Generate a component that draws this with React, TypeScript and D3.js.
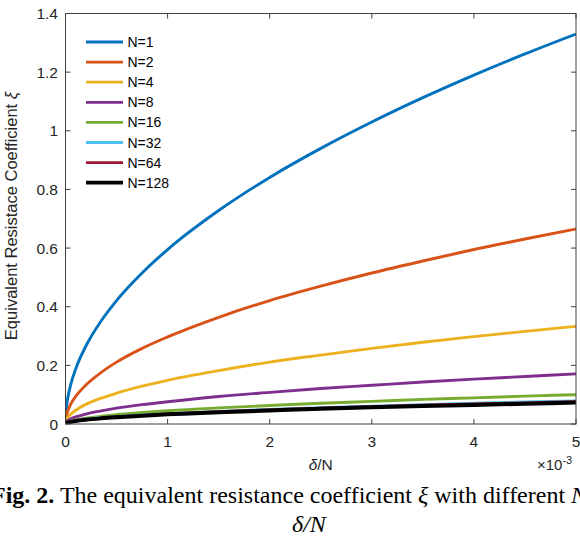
import React from "react";
import * as d3 from "d3";

// x values in units of 1e-3
const xs = [0, 0.005, 0.01, 0.02, 0.05, 0.1, 0.2, 0.35, 0.5, 0.75, 1, 1.5, 2, 2.5, 3, 3.5, 4, 4.5, 5];

const seriesNames = ["N=1", "N=2", "N=4", "N=8", "N=16", "N=32", "N=64", "N=128"];
const seriesColors = ["#0072BD", "#D95319", "#EDB120", "#7E2F8E", "#77AC30", "#4DBEEE", "#A2142F", "#000000"];

const n1 = [0, 0.042, 0.059, 0.084, 0.133, 0.188, 0.266, 0.352, 0.421, 0.515, 0.595, 0.728, 0.841, 0.940, 1.030, 1.113, 1.190, 1.262, 1.330];
const n2 = [0, 0.021, 0.030, 0.042, 0.067, 0.094, 0.133, 0.176, 0.211, 0.258, 0.297, 0.364, 0.421, 0.470, 0.515, 0.556, 0.595, 0.631, 0.665];
const n4 = [0, 0.011, 0.015, 0.021, 0.033, 0.047, 0.067, 0.088, 0.105, 0.129, 0.149, 0.182, 0.211, 0.235, 0.258, 0.279, 0.298, 0.316, 0.333];
const n8 = [0, 0.0054, 0.0076, 0.011, 0.017, 0.024, 0.034, 0.045, 0.054, 0.066, 0.076, 0.094, 0.108, 0.121, 0.132, 0.143, 0.153, 0.162, 0.171];
const n16 = [0, 0.0032, 0.0045, 0.0063, 0.010, 0.014, 0.020, 0.026, 0.032, 0.039, 0.045, 0.055, 0.063, 0.071, 0.077, 0.084, 0.089, 0.095, 0.100];
const n32 = [0, 0.0025, 0.0035, 0.005, 0.0079, 0.011, 0.016, 0.021, 0.025, 0.031, 0.035, 0.043, 0.050, 0.056, 0.061, 0.066, 0.071, 0.075, 0.079];
const n64 = [0, 0.0024, 0.0034, 0.0048, 0.0076, 0.0107, 0.015, 0.020, 0.024, 0.029, 0.034, 0.042, 0.048, 0.054, 0.059, 0.064, 0.068, 0.072, 0.076];
const n128 = [0, 0.0023, 0.0033, 0.0046, 0.0073, 0.0103, 0.0146, 0.0193, 0.023, 0.028, 0.033, 0.040, 0.046, 0.052, 0.057, 0.061, 0.065, 0.069, 0.073];

const seriesValues = [n1, n2, n4, n8, n16, n32, n64, n128];

const xTicks = [0, 1, 2, 3, 4, 5];
const yTicks = [0, 0.2, 0.4, 0.6, 0.8, 1, 1.2, 1.4];

const W = 580;
const H = 537;
const L = 65.5, R = 576, T = 13.5, B = 424;

export default function App() {
  const x = d3.scaleLinear().domain([0, 5]).range([L, R]);
  const y = d3.scaleLinear().domain([0, 1.4]).range([B, T]);
  const line = d3
    .line<number>()
    .x((_, i) => x(xs[i]))
    .y((d) => y(d))
    .curve(d3.curveMonotoneX);
  const font = "'Liberation Sans', Arial, Helvetica, sans-serif";
  const serif = "'Liberation Serif', 'Times New Roman', serif";
  const axisColor = "#404040";
  const tickLen = 5;
  return (
    <svg
      width={W}
      height={H}
      style={{ position: "absolute", left: 0, top: 0, background: "#fff" }}
    >
      <defs>
        <clipPath id="plotclip">
          <rect x={L} y={T} width={R - L} height={B - T} />
        </clipPath>
      </defs>
      <rect x={0} y={0} width={W} height={H} fill="#fff" />
      {/* curves */}
      <g clipPath="url(#plotclip)">
        {seriesValues.map((vals, i) => (
          <path
            key={seriesNames[i]}
            d={line(vals) || ""}
            fill="none"
            stroke={seriesColors[i]}
            strokeWidth={i === 7 ? 4 : 2.9}
            strokeLinejoin="round"
          />
        ))}
      </g>
      {/* axes box */}
      <rect x={L} y={T} width={R - L} height={B - T} fill="none" stroke={axisColor} strokeWidth={1} />
      {xTicks.map((t) => (
        <g key={"x" + t}>
          <line x1={x(t)} x2={x(t)} y1={B} y2={B - tickLen} stroke={axisColor} />
          <line x1={x(t)} x2={x(t)} y1={T} y2={T + tickLen} stroke={axisColor} />
          <text
            x={x(t)}
            y={447}
            fontFamily={font}
            fontSize={15.5}
            fill="#262626"
            textAnchor="middle"
          >
            {t}
          </text>
        </g>
      ))}
      {yTicks.map((t) => (
        <g key={"y" + t}>
          <line x1={L} x2={L + tickLen} y1={y(t)} y2={y(t)} stroke={axisColor} />
          <line x1={R} x2={R - tickLen} y1={y(t)} y2={y(t)} stroke={axisColor} />
          <text
            x={58}
            y={y(t)}
            dy="0.36em"
            fontFamily={font}
            fontSize={15.5}
            fill="#262626"
            textAnchor="end"
          >
            {t}
          </text>
        </g>
      ))}
      {/* x label */}
      <text x={(L + R) / 2} y={470} fontFamily={font} fontSize={15.5} fill="#262626" textAnchor="middle">
        <tspan fontStyle="italic">δ</tspan>/N
      </text>
      {/* exponent */}
      <text x={537} y={470} fontFamily={font} fontSize={15} fill="#262626">
        ×10
        <tspan fontSize={11} dy={-6}>-3</tspan>
      </text>
      {/* y label */}
      <text
        transform={`translate(17, 216) rotate(-90)`}
        fontFamily={font}
        fontSize={16.5}
        fill="#262626"
        textAnchor="middle"
      >
        Equivalent Resistace Coefficient <tspan fontStyle="italic">ξ</tspan>
      </text>
      {/* legend */}
      {seriesNames.map((name, i) => (
        <g key={"leg" + name}>
          <line
            x1={86}
            x2={123}
            y1={42 + i * 20.1}
            y2={42 + i * 20.1}
            stroke={seriesColors[i]}
            strokeWidth={i === 7 ? 3.8 : 2.8}
          />
          <text
            x={127.5}
            y={42 + i * 20.1}
            dy="0.36em"
            fontFamily={font}
            fontSize={14}
            fill="#000"
          >
            {name}
          </text>
        </g>
      ))}
      {/* caption */}
      <text x={-9} y={503} fontFamily={serif} fontSize={24} fill="#000">
        <tspan fontWeight="bold">Fig. 2.</tspan> The equivalent resistance coefficient{" "}
        <tspan fontStyle="italic">ξ</tspan> with different <tspan fontStyle="italic">N</tspan>
      </text>
      <text x={292} y={532} fontFamily={serif} fontSize={24} fontStyle="italic" fill="#000">
        δ/N
      </text>
    </svg>
  );
}
